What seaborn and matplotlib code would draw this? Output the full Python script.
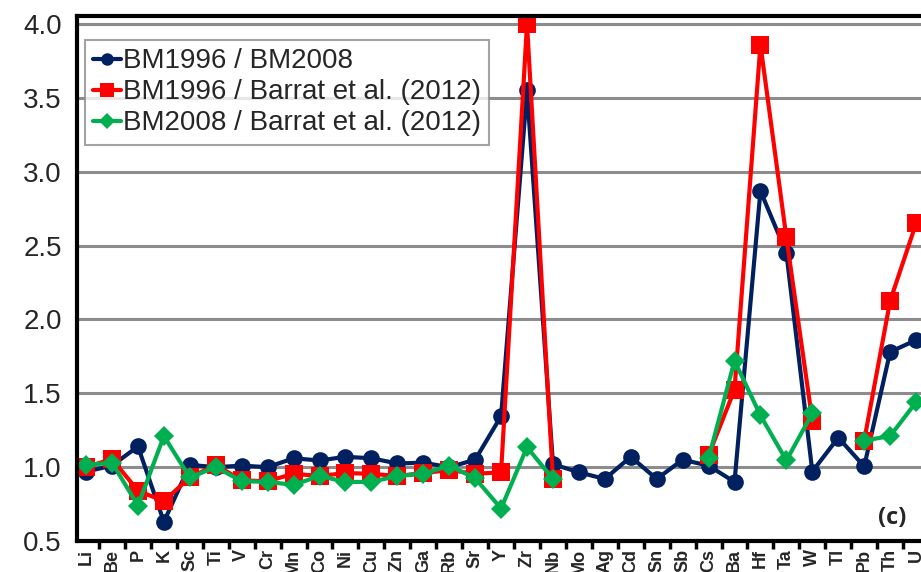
import numpy as np
import pandas as pd
import matplotlib
matplotlib.use("Agg")
import matplotlib.pyplot as plt
from matplotlib.lines import Line2D
from matplotlib.ticker import MultipleLocator, FixedLocator
import seaborn as sns

elements = ["Li", "Be", "P", "K", "Sc", "Ti", "V", "Cr", "Mn", "Co", "Ni", "Cu", "Zn",
            "Ga", "Rb", "Sr", "Y", "Zr", "Nb", "Mo", "Ag", "Cd", "Sn", "Sb", "Cs", "Ba",
            "Hf", "Ta", "W", "Tl", "Pb", "Th", "U"]

bm1996_bm2008 = [0.97, 1.01, 1.14, 0.63, 1.015, 1.00, 1.01, 1.00, 1.06, 1.045, 1.07, 1.06, 1.025,
                 1.03, 1.00, 1.05, 1.345, 3.55, 1.02, 0.965, 0.92, 1.07, 0.92, 1.05, 1.01, 0.90,
                 2.87, 2.45, 0.97, 1.20, 1.005, 1.78, 1.86]

bm1996_barrat = [1.00, 1.055, 0.84, 0.77, 0.93, 1.015, 0.91, 0.905, 0.955, 0.94, 0.96, 0.955, 0.94,
                 0.96, 0.98, 0.955, 0.965, 4.00, 0.92, np.nan, np.nan, np.nan, np.nan, np.nan, 1.08, 1.525,
                 3.86, 2.555, 1.315, np.nan, 1.18, 2.125, 2.65]

bm2008_barrat = [1.015, 1.03, 0.74, 1.21, 0.93, 1.00, 0.905, 0.90, 0.88, 0.94, 0.90, 0.90, 0.94,
                 0.955, 1.01, 0.925, 0.72, 1.135, 0.92, np.nan, np.nan, np.nan, np.nan, np.nan, 1.06, 1.72,
                 1.35, 1.045, 1.365, np.nan, 1.18, 1.21, 1.44]

series_names = ["BM1996 / BM2008", "BM1996 / Barrat et al. (2012)", "BM2008 / Barrat et al. (2012)"]
series_vals = [bm1996_bm2008, bm1996_barrat, bm2008_barrat]
colors = ["#002060", "#FF0000", "#00B050"]
markers = ["o", "s", "D"]
msizes = [12, 12.5, 10.5]

sns.set_style("white")
plt.rcParams["font.family"] = ["Liberation Sans", "DejaVu Sans"]

W, H = 921, 572
fig = plt.figure(figsize=(W / 100, H / 100), dpi=100)
ax_l, ax_t, ax_b = 77, 16, 541
ax = fig.add_axes([ax_l / W, 1 - ax_b / H, (W - ax_l) / W, (ax_b - ax_t) / H])

pos = np.arange(len(elements))
for name, vals, c, m, ms in zip(series_names, series_vals, colors, markers, msizes):
    v = np.array(vals, dtype=float)
    valid = ~np.isnan(v)
    seg = np.cumsum(np.r_[True, valid[1:] != valid[:-1]])
    df = pd.DataFrame({"pos": pos, "val": v, "seg": seg})[valid]
    sns.lineplot(data=df, x="pos", y="val", units="seg", estimator=None, sort=False,
                 color=c, marker=m, markersize=ms, markeredgewidth=0, linewidth=3.0,
                 ax=ax, legend=False, clip_on=True)

ax.set_xlim(-0.35, 32.19)
ax.set_ylim(0.5, 4.054)
ax.set_xlabel("")
ax.set_ylabel("")

# grid
ax.yaxis.set_major_locator(FixedLocator([0.5, 1.0, 1.5, 2.0, 2.5, 3.0, 3.5, 4.0]))
ax.yaxis.set_minor_locator(MultipleLocator(0.1))
for yv in [1.0, 1.5, 2.0, 2.5, 3.0, 3.5, 4.0]:
    ax.axhline(yv, color="#8c8c8c", linewidth=2.2, zorder=0.5)
ax.set_yticklabels(["0.5", "1.0", "1.5", "2.0", "2.5", "3.0", "3.5", "4.0"], fontsize=20)
ax.tick_params(axis="y", which="major", direction="inout", length=12, width=2.5, pad=5, color="black")
ax.tick_params(axis="y", which="minor", direction="in", length=4, width=2.0, color="black")

# x: labels at centers, ticks at boundaries
ax.set_xticks(pos)
ax.set_xticklabels(elements, rotation=90, fontsize=13, fontweight="bold", va="top")
ax.tick_params(axis="x", which="major", length=0, pad=6)
ax.xaxis.set_minor_locator(FixedLocator(np.arange(-0.5, 33, 1.0)))
ax.tick_params(axis="x", which="minor", direction="out", length=6, width=2.5, color="black", bottom=True)

for s in ["left", "bottom", "top"]:
    ax.spines[s].set_visible(True)
    ax.spines[s].set_color("black")
    ax.spines[s].set_linewidth(3.0)
ax.spines["right"].set_visible(False)

handles = [Line2D([0], [0], color=c, marker=m, markersize=ms * 0.75, markeredgewidth=0, linewidth=3.0)
           for c, m, ms in zip(colors, markers, msizes)]
leg = ax.legend(handles, series_names, loc="upper left", bbox_to_anchor=(0.0095, 0.954),
                borderaxespad=0, fontsize=20, handlelength=1.0, handletextpad=0.05,
                labelspacing=0.18, borderpad=0.3, frameon=True, fancybox=False)
leg.get_frame().set_edgecolor("#8c8c8c")
leg.get_frame().set_linewidth(1.5)

ax.text(906 / W, 1 - 518 / H, "(c)", transform=fig.transFigure, ha="right", va="center",
        fontsize=17, fontweight="bold", family=["Open Sans", "DejaVu Sans"])

fig.savefig("out.png", dpi=100)
